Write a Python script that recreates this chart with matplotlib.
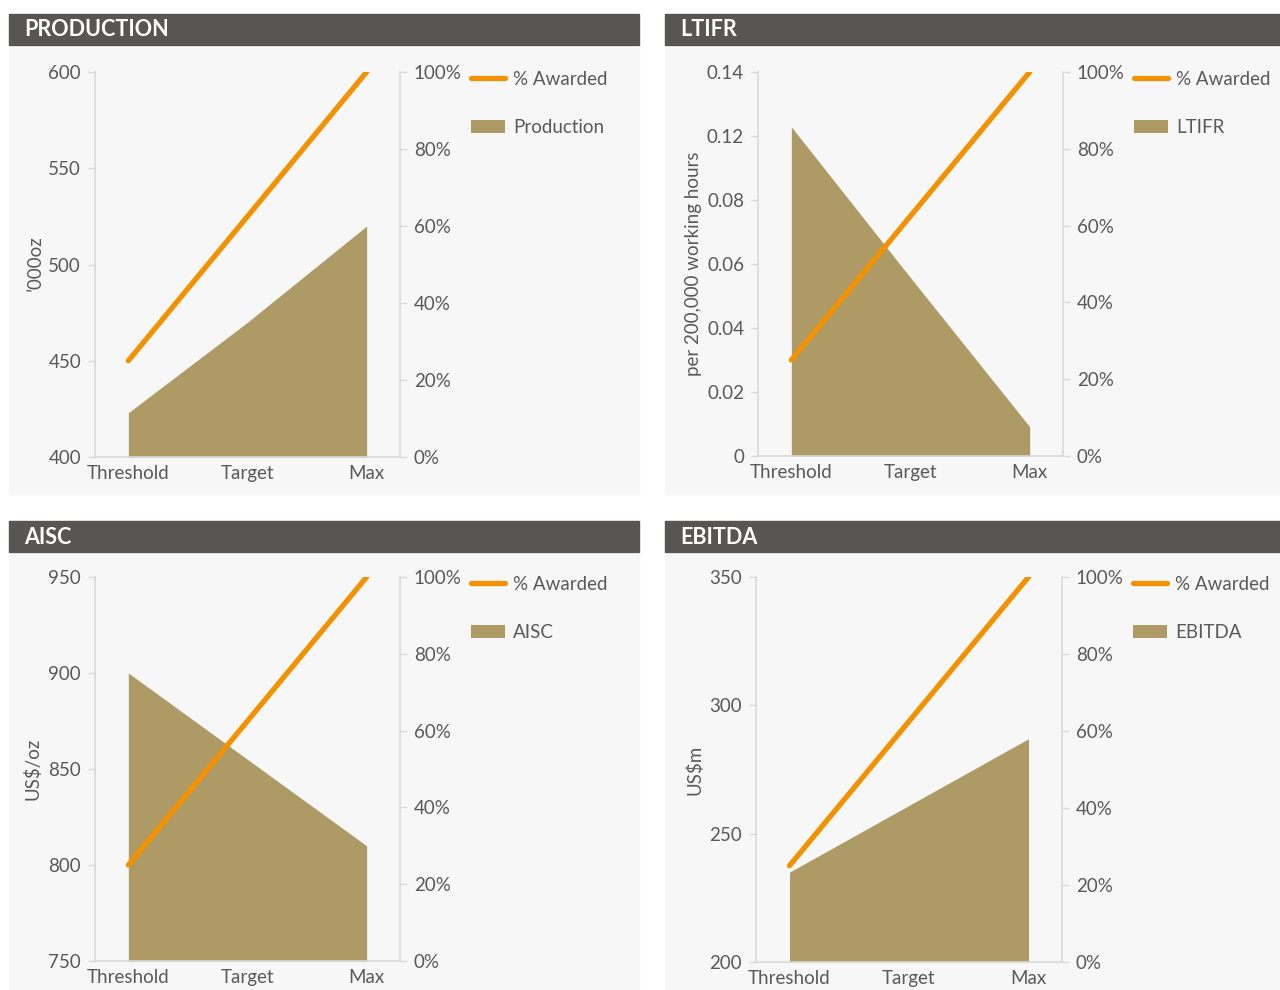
import numpy as np
import matplotlib
matplotlib.use("Agg")
import matplotlib.pyplot as plt
from matplotlib.patches import Rectangle
from matplotlib.ticker import FixedLocator, FixedFormatter

# Data
categories = ["Threshold", "Target", "Max"]
awarded_pct = [25, 62.5, 100]

production = [423, 470, 520]
production_ticks = [400, 450, 500, 550, 600]

ltifr = [0.12, 0.065, 0.0107]
ltifr_tick_labels = ["0", "0.02", "0.04", "0.06", "0.08", "0.12", "0.14"]

aisc = [900, 855, 810]
aisc_ticks = [750, 800, 850, 900, 950]

ebitda = [235, 261, 287]
ebitda_ticks = [200, 250, 300, 350]

pct_ticks = [0, 20, 40, 60, 80, 100]

# Colours
HEADER = "#575654"
PANEL_BG = "#f7f7f7"
AREA = "#ae9a64"
ORANGE = "#f39200"
AXIS_GREY = "#d9d9d9"
TEXT_GREY = "#595959"
FS = 13.5

W, H = 1280, 990
plt.rcParams['font.family'] = ['Lato', 'DejaVu Sans']

fig = plt.figure(figsize=(W / 100, H / 100), dpi=100)
fig.patch.set_facecolor("white")


def rect(x0, y0, x1, y1):
    '''pixel box (top-left origin) -> figure fraction [l, b, w, h]'''
    return [x0 / W, 1 - y1 / H, (x1 - x0) / W, (y1 - y0) / H]


def draw_panel(title, header, bg, ax_box, values, yticks, yticklabels, ylabel, ylabel_x, name):
    # header bar + panel background
    hx0, hy0, hx1, hy1 = header
    l, b, w, h = rect(*header)
    fig.add_artist(Rectangle((l, b), w, h, transform=fig.transFigure, color=HEADER, zorder=0))
    fig.text((hx0 + 15) / W, 1 - (hy0 + hy1 + 1) / 2 / H, title, color="white",
             fontsize=15.5, fontweight="bold", va="center", ha="left")
    l, b, w, h = rect(*bg)
    fig.add_artist(Rectangle((l, b), w, h, transform=fig.transFigure, color=PANEL_BG, zorder=0))

    x0, x1, y0, y1 = ax_box
    ax = fig.add_axes(rect(x0, y0, x1, y1))
    ax.patch.set_alpha(0)
    x = np.arange(len(categories))
    area = ax.fill_between(x, yticks[0], values, color=AREA, linewidth=0, label=name)
    ax.set_xlim(-0.28, 2.28)
    ax.set_ylim(yticks[0], yticks[-1])
    ax.yaxis.set_major_locator(FixedLocator(yticks))
    ax.yaxis.set_major_formatter(FixedFormatter(yticklabels))
    ax.set_xticks(x)
    ax.set_xticklabels(categories)
    ax.tick_params(axis="x", length=0, pad=6, labelsize=FS, labelcolor=TEXT_GREY)
    ax.tick_params(axis="y", length=5, width=1, color=AXIS_GREY, pad=5,
                   labelsize=FS, labelcolor=TEXT_GREY)
    for s in ["top", "right"]:
        ax.spines[s].set_visible(False)
    for s in ["left", "bottom"]:
        ax.spines[s].set_color(AXIS_GREY)
        ax.spines[s].set_linewidth(1.2)
    ax.set_ylabel(ylabel, fontsize=FS, color=TEXT_GREY)
    ax.yaxis.set_label_coords((ylabel_x + 9 - x0) / (x1 - x0), 0.5)

    ax2 = ax.twinx()
    line, = ax2.plot(x, awarded_pct, color=ORANGE, linewidth=3.8,
                     solid_capstyle="round", label="% Awarded")
    ax2.set_ylim(0, 100)
    ax2.set_yticks(pct_ticks)
    ax2.set_yticklabels([f"{p}%" for p in pct_ticks])
    ax2.tick_params(axis="y", length=5, width=1, color=AXIS_GREY, pad=5,
                    labelsize=FS, labelcolor=TEXT_GREY)
    for s in ["top", "left", "bottom"]:
        ax2.spines[s].set_visible(False)
    ax2.spines["right"].set_color(AXIS_GREY)
    ax2.spines["right"].set_linewidth(1.2)

    leg = ax2.legend([line, area], ["% Awarded", name], loc="upper left",
                     bbox_to_anchor=((x1 + 71) / W, 1 - (y0 - 1) / H),
                     bbox_transform=fig.transFigure, frameon=False, fontsize=FS,
                     borderpad=0, borderaxespad=0, handlelength=1.8,
                     handleheight=0.7, handletextpad=0.45, labelspacing=1.67)
    for t in leg.get_texts():
        t.set_color(TEXT_GREY)


draw_panel("PRODUCTION", (9, 14, 639, 45), (9, 48, 639, 494), (95, 400, 72, 457),
           production, production_ticks, [str(t) for t in production_ticks],
           "\u2019000oz", 35, "Production")

ltifr_pos = list(np.linspace(0, 0.14, len(ltifr_tick_labels)))
draw_panel("LTIFR", (665, 14, 1280, 45), (665, 48, 1280, 494), (758, 1063, 72, 456),
           ltifr, ltifr_pos, ltifr_tick_labels,
           "per 200,000 working hours", 693, "LTIFR")

draw_panel("AISC", (9, 521, 639, 552), (9, 555, 639, 990), (95, 400, 577, 961),
           aisc, aisc_ticks, [str(t) for t in aisc_ticks],
           r"US\$/oz", 33, "AISC")

draw_panel("EBITDA", (665, 521, 1280, 552), (665, 555, 1280, 990), (756, 1062, 577, 962),
           ebitda, ebitda_ticks, [str(t) for t in ebitda_ticks],
           r"US\$m", 695, "EBITDA")

fig.savefig("out.png", dpi=100, facecolor=fig.get_facecolor())
